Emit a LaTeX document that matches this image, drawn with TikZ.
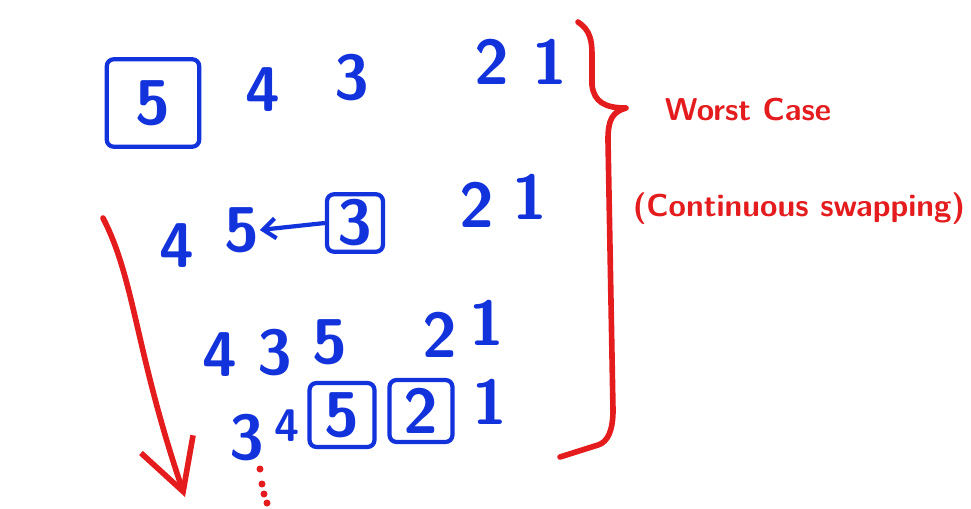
\documentclass[tikz,border=0pt]{standalone}
\usetikzlibrary{arrows.meta}
\definecolor{inkblue}{RGB}{18,50,220}
\definecolor{inkred}{RGB}{228,28,30}
\begin{document}
\begin{tikzpicture}[>={Straight Barb[length=2.5mm,width=4mm]}, x=0.02cm, y=-0.02cm,
    num/.style={text=inkblue, font=\fontsize{36}{40}\selectfont\sffamily\bfseries, inner sep=0pt},
    boxed/.style={num, draw=inkblue, line width=2.4pt, rounded corners=4pt},
    note/.style={text=inkred, font=\fontsize{18}{22}\selectfont\sffamily\bfseries, inner sep=0pt},
    ink/.style={inkred, line width=3.2pt, line cap=round, line join=round}]
    \useasboundingbox (0,0) rectangle (971,508);
    \node[boxed, minimum width=1.85cm, minimum height=1.75cm] (a5) at (153,103) {5};
    \node[num] (a4) at (263,90) {4};
    \node[num] (a3) at (352,78) {3};
    \node[num] (a2) at (492,62) {2};
    \node[num] (a1) at (550,62) {1};
    \node[num] (b4) at (177,246) {4};
    \node[num] (b5) at (242,230) {5};
    \node[boxed, minimum width=1.12cm, minimum height=1.15cm] (b3) at (355,223) {3};
    \node[num] (b2) at (477,205) {2};
    \node[num] (b1) at (530,197) {1};
    \draw[->, inkblue, line width=2.4pt] (b3.west) -- (b5.east);
    \node[num] (c4) at (220,355) {4};
    \node[num] (c3) at (275,353) {3};
    \node[num] (c5) at (330,342) {5};
    \node[num] (c2) at (440,335) {2};
    \node[num] (c1) at (487,323) {1};
    \node[num] (d3) at (247,438) {3};
    \node[num, font=\fontsize{26}{30}\selectfont\sffamily\bfseries] (d4) at (287,426) {4};
    \node[boxed, minimum width=1.3cm, minimum height=1.28cm] (d5) at (342,415) {5};
    \node[boxed, minimum width=1.26cm, minimum height=1.24cm] (d2) at (421,411) {2};
    \node[num] (d1) at (490,402) {1};
    \foreach \p in {(260,469),(262,484),(264,494),(267,503)}
      \fill[inkred] \p circle (3.5);
    \coordinate (down) at (103,218);
    \coordinate (downtip) at (185,497);
    \draw[ink, -{Straight Barb[length=10mm,width=11mm]}] (down) .. controls (135,280) and (135,350) .. (downtip);
    \draw[ink] (578,22) .. controls (590,30) and (592,40) .. (592,55) -- (592,85)
      .. controls (594,102) and (605,108) .. (626,108) .. controls (612,112) and (608,120) .. (608,140)
      -- (613,410) .. controls (613,430) and (608,442) .. (598,445) -- (560,457);
    \node[note] (worst) at (748,110) {Worst Case};
    \node[note] (swap) at (799,209) {(Continuous swapping)};
  \end{tikzpicture}
\end{document}
